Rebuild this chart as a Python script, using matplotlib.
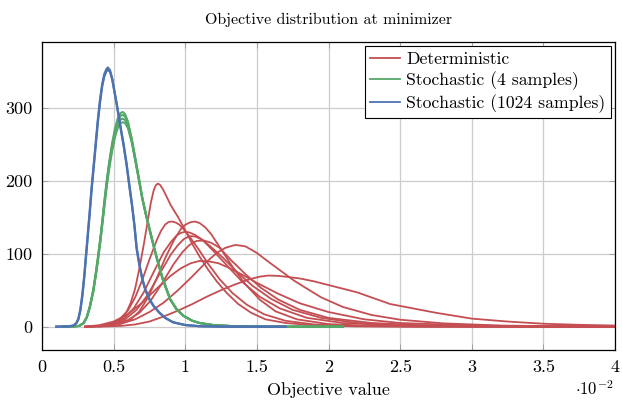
import matplotlib
matplotlib.use("Agg")
import matplotlib.pyplot as plt

# x values are in units of 1e-2 (the axis shows the multiplier)
blue_x = [0.10, 0.18, 0.22, 0.24, 0.254, 0.268, 0.282, 0.295, 0.307, 0.32, 0.333, 0.345, 0.36, 0.375,
          0.39, 0.405, 0.42, 0.435, 0.45, 0.46, 0.475, 0.49, 0.505, 0.52, 0.535, 0.55, 0.568, 0.59,
          0.61, 0.63, 0.645, 0.661, 0.68, 0.70, 0.72, 0.75, 0.78, 0.82, 0.86, 0.915, 1.0, 1.1, 1.25, 1.7]
blue_y = [[0, 0.3, 1.5, 5, 11, 24, 45, 70, 98, 128, 158, 188, 220, 252,
           284, 311, 332, 346, 353, 355, 351, 340, 323, 306, 288, 270, 250, 222,
           192, 163, 138, 106, 84, 65, 51, 37, 28, 19, 12, 6, 2.2, 0.6, 0, 0],
          [0, 0.3, 1.4, 4.6, 10, 22, 42, 67, 95, 124, 154, 184, 216, 248,
           280, 307, 329, 343, 350, 352, 349, 339, 323, 307, 290, 272, 252, 224,
           194, 165, 140, 108, 85, 66, 52, 38, 28, 19, 12, 6, 2.2, 0.6, 0, 0]]

green_x = [0.15, 0.22, 0.26, 0.29, 0.312, 0.335, 0.358, 0.375, 0.393, 0.41, 0.425, 0.44, 0.455, 0.47,
           0.49, 0.51, 0.53, 0.55, 0.565, 0.58, 0.60, 0.626, 0.65, 0.677, 0.70, 0.725, 0.75, 0.775,
           0.80, 0.84, 0.894, 0.94, 0.986, 1.05, 1.10, 1.2, 1.35, 1.5, 2.1]
green_y = [[0, 0.3, 1, 5, 13, 28, 50, 72, 98, 125, 152, 180, 205, 227,
            252, 272, 286, 293, 294, 291, 281, 258, 232, 202, 176, 154, 134, 114,
            95, 67, 38, 24, 15, 8, 5, 2, 0.5, 0, 0],
           [0, 0.3, 1, 5, 12, 27, 48, 70, 95, 122, 149, 176, 201, 223,
            248, 268, 282, 289, 290, 288, 279, 257, 232, 203, 177, 155, 135, 115,
            96, 68, 38, 24, 15, 8, 5, 2, 0.5, 0, 0],
           [0, 0.3, 1, 5, 13, 29, 51, 73, 99, 126, 152, 179, 203, 224,
            247, 265, 278, 284, 285, 283, 275, 254, 229, 200, 175, 153, 133, 113,
            94, 66, 37, 23, 15, 8, 5, 2, 0.5, 0, 0],
           [0, 0.3, 1, 4.5, 12, 27, 48, 69, 94, 120, 146, 172, 196, 217,
            241, 260, 273, 279, 280, 279, 272, 253, 229, 201, 176, 154, 134, 114,
            95, 67, 38, 24, 15, 8, 5, 2, 0.5, 0, 0]]

red_x = [
    [0.30, 0.40, 0.47, 0.52, 0.56, 0.59, 0.62, 0.65, 0.68, 0.71, 0.74, 0.76, 0.78, 0.795, 0.81, 0.825,
     0.845, 0.87, 0.90, 0.95, 1.00, 1.05, 1.10, 1.16, 1.22, 1.29, 1.37, 1.46, 1.56, 1.70, 1.90, 2.2,
     2.6, 4.0],
    [0.30, 0.40, 0.48, 0.54, 0.60, 0.65, 0.70, 0.75, 0.80, 0.83, 0.86, 0.885, 0.91, 0.935, 0.96, 1.00,
     1.05, 1.10, 1.16, 1.24, 1.33, 1.43, 1.55, 1.70, 1.90, 2.2, 2.6, 4.0],
    [0.35, 0.45, 0.55, 0.62, 0.68, 0.74, 0.80, 0.86, 0.92, 0.97, 1.00, 1.035, 1.068, 1.10, 1.14, 1.18,
     1.25, 1.33, 1.42, 1.52, 1.63, 1.78, 2.0, 2.3, 2.8, 4.0],
    [0.30, 0.40, 0.50, 0.57, 0.64, 0.71, 0.78, 0.85, 0.90, 0.94, 0.97, 1.0, 1.03, 1.07, 1.12, 1.2,
     1.3, 1.4, 1.52, 1.66, 1.85, 2.1, 2.5, 3.0, 4.0],
    [0.30, 0.40, 0.50, 0.58, 0.66, 0.74, 0.82, 0.90, 0.95, 0.99, 1.03, 1.07, 1.11, 1.17, 1.26, 1.36,
     1.47, 1.6, 1.75, 1.95, 2.2, 2.6, 3.2, 4.0],
    [0.32, 0.42, 0.52, 0.60, 0.68, 0.76, 0.84, 0.92, 0.98, 1.03, 1.08, 1.13, 1.18, 1.24, 1.32, 1.42,
     1.53, 1.65, 1.8, 2.0, 2.3, 2.7, 3.3, 4.0],
    [0.35, 0.45, 0.55, 0.65, 0.75, 0.85, 0.95, 1.05, 1.15, 1.22, 1.28, 1.35, 1.42, 1.50, 1.58, 1.67,
     1.76, 1.85, 1.95, 2.1, 2.3, 2.5, 2.8, 3.2, 3.6, 4.0],
    [0.30, 0.40, 0.50, 0.60, 0.70, 0.80, 0.90, 0.97, 1.04, 1.10, 1.16, 1.23, 1.3, 1.4, 1.5, 1.65,
     1.8, 2.0, 2.25, 2.5, 3.0, 3.5, 4.0],
    [0.40, 0.55, 0.65, 0.75, 0.85, 0.95, 1.05, 1.15, 1.25, 1.35, 1.45, 1.52, 1.58, 1.65, 1.72, 1.8,
     1.9, 2.0, 2.2, 2.43, 2.75, 3.0, 3.25, 3.5, 3.75, 4.0],
]
red_y = [
    [0, 0.5, 2.5, 6, 12, 20, 33, 52, 80, 112, 147, 170, 187, 194, 196, 194,
     188, 178, 166, 150, 132, 113, 96, 78, 62, 46, 31, 19, 10, 5, 1.8, 0.4,
     0, 0],
    [0, 1, 4, 10, 22, 40, 64, 92, 118, 131, 140, 143.5, 144, 142.5, 139.5, 131,
     118, 104, 86, 65, 46, 30, 17, 8, 3, 0.8, 0.1, 0],
    [0, 1, 4, 10, 21, 40, 66, 94, 118, 134, 139.5, 143, 144, 142, 136, 127,
     106, 82, 58, 37, 21, 10, 3.5, 1, 0.2, 0],
    [0, 1, 4, 11, 25, 47, 75, 102, 116, 125, 128.5, 130, 129, 125.5, 119, 103,
     82, 61, 41, 25, 12, 5, 1.5, 0.4, 0],
    [0, 1, 4, 10, 23, 44, 72, 99, 112, 120, 124, 123.5, 120, 111, 95, 75,
     56, 38, 23, 12, 5, 1.5, 0.4, 0],
    [0, 1, 4, 9, 19, 36, 60, 86, 102, 112, 117.5, 118, 115, 108, 91, 72,
     53, 37, 23, 12, 5, 1.5, 0.3, 0],
    [0, 1, 4, 10, 20, 33, 50, 69, 89, 101, 108, 112, 110, 101, 89, 76,
     63, 52, 40, 27, 16, 9.5, 4.5, 1.5, 0.5, 0.2],
    [0, 2, 7, 17, 33, 52, 70, 80, 87, 90, 89.5, 87, 81, 71, 60, 45,
     32, 20, 10, 5, 1.5, 0.4, 0],
    [0, 1, 3, 7, 14, 22, 31, 41, 50, 58, 65, 68.5, 70, 69.5, 68, 66,
     62, 57, 47, 31, 19, 11, 7, 4, 2.5, 1.5],
]

labels = ["Deterministic", "Stochastic (4 samples)", "Stochastic (1024 samples)"]
colors = ["#C44E52", "#55A868", "#4C72B0"]
xticks = [0, 0.5, 1, 1.5, 2, 2.5, 3, 3.5, 4]
xtick_labels = ["0", "0.5", "1", "1.5", "2", "2.5", "3", "3.5", "4"]
yticks = [0, 100, 200, 300]

plt.rcParams['font.family'] = 'cmr10'
plt.rcParams['mathtext.fontset'] = 'cm'
plt.rcParams['axes.unicode_minus'] = False

fig = plt.figure(figsize=(6.22, 4.04), dpi=100)
ax = fig.add_axes([42 / 622, 1 - 350 / 404, 573 / 622, 308 / 404])

for xs, ys in zip(red_x, red_y):
    ax.plot(xs, ys, color=colors[0], lw=1.3)
for ys in green_y:
    ax.plot(green_x, ys, color=colors[1], lw=1.5)
for ys in blue_y:
    ax.plot(blue_x, ys, color=colors[2], lw=1.6)

ax.set_xlim(0, 4)
ax.set_ylim(-32, 390)
ax.set_xticks(xticks)
ax.set_xticklabels(xtick_labels)
ax.set_yticks(yticks)
ax.grid(True, color='#cccccc', lw=0.9)
ax.set_axisbelow(True)
ax.tick_params(direction='in', length=4, width=0.6, color='#999999', labelsize=13,
               top=True, right=True, pad=7)
for s in ax.spines.values():
    s.set_linewidth(0.9)

ax.set_title("Objective distribution at minimizer", fontsize=11.5, pad=13)
ax.set_xlabel("Objective value", fontsize=13, labelpad=5)
ax.text(0.93, -0.125, r"$\cdot10^{-2}$", transform=ax.transAxes, fontsize=12,
        ha='left', va='center')

handles = [plt.Line2D([], [], color=c, lw=1.3) for c in colors]
leg = ax.legend(handles, labels, loc='upper right', fontsize=12.7, frameon=True,
                fancybox=False, edgecolor='black', framealpha=1,
                handlelength=1.7, handletextpad=0.35, borderpad=0.3, labelspacing=0.25,
                borderaxespad=0.25)
leg.get_frame().set_linewidth(0.8)

fig.savefig("out.png", dpi=100)
